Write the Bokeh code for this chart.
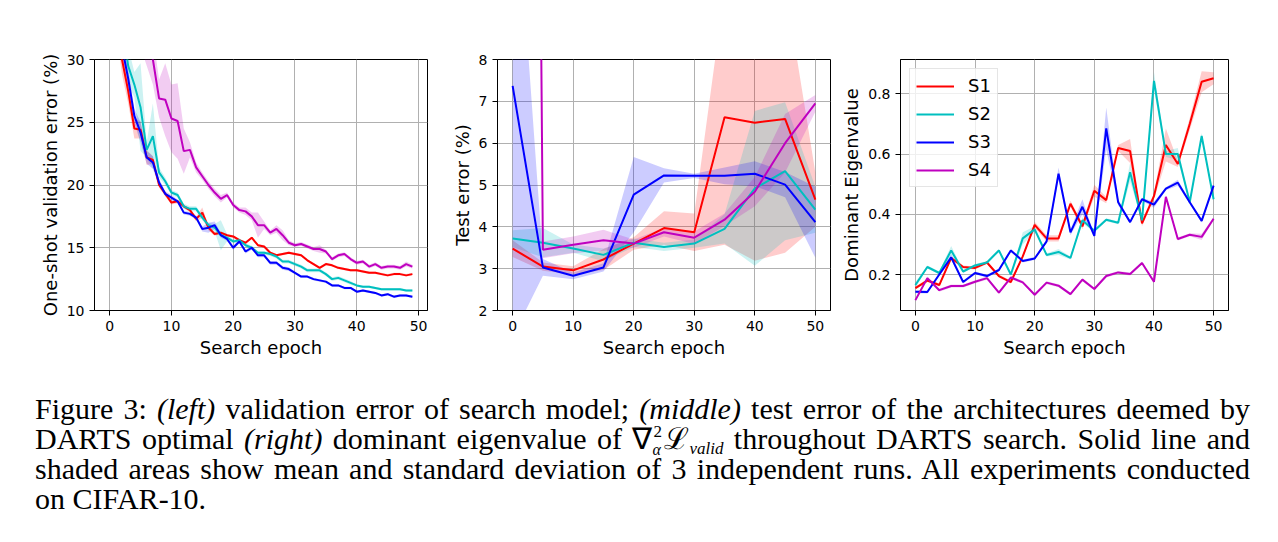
import numpy as np
from bokeh.plotting import figure
from bokeh.models import FixedTicker, Range1d, Legend, LegendItem, Div
from bokeh.layouts import row, column
from bokeh.embed import file_html
from bokeh.resources import INLINE

# ---------------- data ----------------
series = ["S1", "S2", "S3", "S4"]
colors = ["#ff0000", "#00bfbf", "#0000ff", "#bf00bf"]

# left: one-shot validation error (%) per search epoch
val_epochs = list(range(50))
val_s1 = [40.0, 34.0, 30.0, 27.5, 24.5, 24.4, 22.2, 22.0, 20.0, 19.3,
          18.6, 18.7, 18.3, 18.0, 17.3, 17.8, 16.6, 16.1, 16.2, 16.0,
          15.9, 15.6, 15.4, 15.8, 15.2, 15.1, 14.6, 14.4, 14.5, 14.6,
          14.5, 14.4, 14.0, 13.7, 13.4, 13.7, 13.6, 13.4, 13.3, 13.2,
          13.2, 13.1, 13.0, 13.0, 12.9, 12.8, 12.9, 12.9, 12.8, 12.9]
val_s2 = [45.0, 38.0, 33.0, 29.5, 28.0, 26.2, 22.8, 23.9, 21.0, 20.3,
          19.4, 19.2, 18.3, 18.1, 18.1, 17.4, 16.8, 16.6, 16.0, 15.8,
          15.5, 15.6, 15.2, 15.0, 14.6, 14.6, 14.5, 14.3, 13.9, 13.9,
          13.7, 13.5, 13.2, 13.2, 13.2, 12.9, 12.5, 12.6, 12.4, 12.2,
          12.0, 11.9, 11.9, 11.8, 11.7, 11.7, 11.7, 11.7, 11.6, 11.6]
val_s3 = [45.0, 38.0, 31.0, 28.5, 25.5, 24.2, 22.2, 21.8, 20.2, 19.3,
          19.0, 18.7, 17.8, 17.7, 17.4, 16.5, 16.6, 16.8, 16.0, 15.7,
          15.0, 15.5, 14.7, 15.0, 14.4, 14.4, 13.8, 13.8, 13.4, 13.3,
          13.0, 12.7, 12.7, 12.5, 12.4, 12.3, 12.0, 12.0, 11.8, 11.8,
          11.5, 11.6, 11.5, 11.4, 11.2, 11.3, 11.1, 11.2, 11.2, 11.1]
val_s4 = [45.0, 42.0, 40.0, 37.0, 35.0, 33.0, 31.5, 30.0, 26.9, 26.8,
          25.3, 25.1, 22.7, 22.8, 21.4, 20.7, 20.0, 19.4, 18.9, 19.2,
          18.4, 18.0, 17.9, 17.5, 16.8, 16.8, 16.2, 16.5, 16.0, 15.4,
          15.2, 15.3, 15.1, 14.9, 14.9, 14.7, 14.1, 14.4, 14.5, 14.1,
          13.8, 13.9, 13.5, 13.7, 13.4, 13.5, 13.5, 13.4, 13.7, 13.5]
val_sd_s1 = [1.5, 1.5, 1.2, 1.0, 0.8, 0.7, 0.6, 0.3, 0.2, 0.2,
             0.15, 0.15, 0.15, 0.15, 0.2, 0.4, 0.2, 0.15, 0.1, 0.1,
             0.1, 0.1, 0.1, 0.1, 0.1, 0.1, 0.1, 0.1, 0.1, 0.1,
             0.1, 0.1, 0.1, 0.1, 0.1, 0.1, 0.1, 0.1, 0.1, 0.1,
             0.1, 0.1, 0.1, 0.1, 0.1, 0.1, 0.1, 0.1, 0.1, 0.1]
val_sd_s2 = [2.0, 2.0, 2.0, 1.5, 1.0, 3.5, 0.6, 2.6, 0.4, 0.3,
             0.2, 0.2, 0.2, 0.2, 0.2, 0.2, 0.2, 0.3, 1.2, 0.3,
             0.15, 0.15, 0.15, 0.15, 0.15, 0.15, 0.15, 0.15, 0.15, 0.15,
             0.15, 0.15, 0.15, 0.15, 0.15, 0.15, 0.15, 0.15, 0.15, 0.15,
             0.1, 0.1, 0.1, 0.1, 0.1, 0.1, 0.1, 0.1, 0.1, 0.1]
val_sd_s3 = [1.0, 1.0, 1.0, 0.8, 0.6, 0.8, 0.5, 0.5, 0.3, 0.2,
             0.2, 0.15, 0.15, 0.15, 0.15, 0.2, 0.4, 0.3, 0.2, 0.15,
             0.15, 0.15, 0.15, 0.15, 0.15, 0.15, 0.15, 0.15, 0.15, 0.15,
             0.1, 0.1, 0.1, 0.1, 0.1, 0.1, 0.1, 0.1, 0.1, 0.1,
             0.1, 0.1, 0.1, 0.1, 0.1, 0.1, 0.1, 0.1, 0.1, 0.1]
val_sd_s4 = [2.0, 2.0, 2.0, 2.0, 2.0, 2.0, 2.0, 2.0, 1.5, 2.9,
             2.7, 3.0, 1.8, 0.6, 0.4, 0.3, 0.3, 0.3, 0.3, 0.2,
             0.2, 0.2, 0.3, 0.3, 1.0, 0.3, 0.2, 0.3, 0.4, 0.2,
             0.15, 0.15, 0.15, 0.15, 0.3, 0.15, 0.15, 0.15, 0.15, 0.15,
             0.15, 0.15, 0.15, 0.15, 0.15, 0.15, 0.15, 0.15, 0.2, 0.15]

# middle: test error (%) of architecture deemed optimal
test_epochs = [0, 5, 10, 15, 20, 25, 30, 35, 40, 45, 50]
test_s1 = [3.48, 3.05, 2.96, 3.22, 3.60, 3.97, 3.87, 6.62, 6.49, 6.58, 4.65]
test_s2 = [3.72, 3.62, 3.48, 3.33, 3.62, 3.52, 3.60, 3.95, 4.92, 5.33, 4.41]
test_s3 = [7.37, 3.03, 2.83, 3.03, 4.77, 5.23, 5.22, 5.22, 5.27, 5.01, 4.11]
test_s4 = [90.0, 3.45, 3.57, 3.68, 3.60, 3.87, 3.74, 4.17, 4.84, 6.00, 6.95]
test_sd_s1 = [0.2, 0.1, 0.1, 0.25, 0.15, 0.4, 0.45, 3.05, 3.3, 3.2, 0.65]
test_sd_s2 = [0.2, 0.35, 0.1, 0.15, 0.1, 0.1, 0.1, 0.35, 1.85, 1.65, 0.55]
test_sd_s3 = [6.0, 0.2, 0.08, 0.1, 0.9, 0.17, 0.05, 0.2, 0.3, 0.3, 0.85]
test_sd_s4 = [1.0, 0.2, 0.2, 0.25, 0.1, 0.1, 0.15, 0.15, 0.35, 0.7, 0.2]

# right: dominant eigenvalue
eig_epochs = list(range(0, 51, 2))
eig_s1 = [0.155, 0.18, 0.165, 0.255, 0.225, 0.222, 0.24, 0.195, 0.175, 0.26,
          0.365, 0.32, 0.32, 0.435, 0.36, 0.478, 0.447, 0.62, 0.61, 0.37,
          0.46, 0.63, 0.567, 0.70, 0.84, 0.852]
eig_s2 = [0.165, 0.225, 0.205, 0.28, 0.21, 0.23, 0.24, 0.28, 0.20, 0.32,
          0.35, 0.265, 0.275, 0.255, 0.38, 0.345, 0.382, 0.372, 0.54, 0.38,
          0.843, 0.60, 0.60, 0.44, 0.66, 0.45]
eig_s3 = [0.143, 0.142, 0.20, 0.257, 0.175, 0.205, 0.195, 0.215, 0.28, 0.245,
          0.253, 0.31, 0.535, 0.34, 0.425, 0.328, 0.685, 0.44, 0.374, 0.45,
          0.432, 0.485, 0.505, 0.44, 0.378, 0.495]
eig_s4 = [0.115, 0.188, 0.148, 0.162, 0.162, 0.176, 0.188, 0.14, 0.19, 0.174,
          0.133, 0.173, 0.163, 0.135, 0.183, 0.152, 0.195, 0.207, 0.202, 0.238,
          0.176, 0.458, 0.318, 0.332, 0.325, 0.385]
eig_sd_s1 = [0.005, 0.005, 0.005, 0.005, 0.005, 0.005, 0.005, 0.005, 0.005, 0.005,
             0.01, 0.01, 0.01, 0.01, 0.01, 0.02, 0.01, 0.01, 0.04, 0.01,
             0.01, 0.055, 0.01, 0.02, 0.035, 0.02]
eig_sd_s2 = [0.01, 0.005, 0.005, 0.015, 0.005, 0.005, 0.005, 0.005, 0.005, 0.02,
             0.01, 0.005, 0.01, 0.005, 0.01, 0.005, 0.005, 0.005, 0.03, 0.005,
             0.03, 0.01, 0.02, 0.005, 0.01, 0.005]
eig_sd_s3 = [0.005, 0.005, 0.005, 0.01, 0.005, 0.005, 0.005, 0.005, 0.005, 0.005,
             0.005, 0.005, 0.02, 0.01, 0.025, 0.005, 0.07, 0.01, 0.005, 0.005,
             0.01, 0.005, 0.01, 0.005, 0.005, 0.005]
eig_sd_s4 = [0.005, 0.005, 0.005, 0.005, 0.005, 0.005, 0.005, 0.005, 0.005, 0.005,
             0.005, 0.005, 0.005, 0.005, 0.005, 0.005, 0.005, 0.005, 0.005, 0.005,
             0.005, 0.005, 0.005, 0.005, 0.01, 0.005]

val_x_ticks = [0, 10, 20, 30, 40, 50]
val_y_ticks = [10, 15, 20, 25, 30]
test_y_ticks = [2, 3, 4, 5, 6, 7, 8]
eig_y_ticks = [0.2, 0.4, 0.6, 0.8]

FONT = "DejaVu Sans"


def style(p, xticks, yticks, xlabel, ylabel):
    p.xaxis.ticker = FixedTicker(ticks=xticks)
    p.yaxis.ticker = FixedTicker(ticks=yticks)
    p.xaxis.axis_label = xlabel
    p.yaxis.axis_label = ylabel
    for ax in list(p.xaxis) + list(p.yaxis):
        ax.major_label_text_font = FONT
        ax.major_label_text_font_size = "14px"
        ax.major_label_text_color = "black"
        ax.axis_label_text_font = FONT
        ax.axis_label_text_font_size = "18px"
        ax.axis_label_text_font_style = "normal"
        ax.axis_label_text_color = "black"
        ax.axis_line_color = "black"
        ax.major_tick_line_color = "black"
        ax.major_tick_out = 5
        ax.major_tick_in = 0
        ax.minor_tick_line_color = None
        ax.major_label_standoff = 5
        ax.axis_label_standoff = 3
    p.xgrid.grid_line_color = "#b0b0b0"
    p.ygrid.grid_line_color = "#b0b0b0"
    p.xgrid.grid_line_width = 1
    p.ygrid.grid_line_width = 1
    p.outline_line_color = "black"
    p.outline_line_alpha = 1.0
    p.outline_line_width = 1
    p.background_fill_color = "white"
    p.border_fill_color = "white"


def add_series(p, x, means, sds):
    rends = []
    for m, s, c in zip(means, sds, colors):
        m = np.array(m, dtype=float)
        s = np.array(s, dtype=float)
        p.varea(x=x, y1=m - s, y2=m + s, fill_color=c, fill_alpha=0.2)
    for m, c in zip(means, colors):
        r = p.line(x=x, y=m, line_color=c, line_width=2)
        rends.append(r)
    return rends


common = dict(output_backend="svg", toolbar_location=None, height=370,
              min_border_top=59, min_border_bottom=60)

p1 = figure(width=440, x_range=Range1d(-2.45, 51.45), y_range=Range1d(10, 30),
            min_border_left=94, min_border_right=13, **common)
add_series(p1, val_epochs, [val_s1, val_s2, val_s3, val_s4],
           [val_sd_s1, val_sd_s2, val_sd_s3, val_sd_s4])
style(p1, val_x_ticks, val_y_ticks, "Search epoch", "One-shot validation error (%)")

p2 = figure(width=396, x_range=Range1d(-2.5, 52.5), y_range=Range1d(2, 8),
            min_border_left=57, min_border_right=6, **common)
add_series(p2, test_epochs, [test_s1, test_s2, test_s3, test_s4],
           [test_sd_s1, test_sd_s2, test_sd_s3, test_sd_s4])
style(p2, val_x_ticks, test_y_ticks, "Search epoch", "Test error (%)")

p3 = figure(width=442, x_range=Range1d(-2.5, 52.5), y_range=Range1d(0.0805, 0.914),
            min_border_left=64, min_border_right=50, **common)
rends = add_series(p3, eig_epochs, [eig_s1, eig_s2, eig_s3, eig_s4],
                   [eig_sd_s1, eig_sd_s2, eig_sd_s3, eig_sd_s4])
style(p3, val_x_ticks, eig_y_ticks, "Search epoch", "Dominant Eigenvalue")

legend = Legend(items=[LegendItem(label=s, renderers=[r]) for s, r in zip(series, rends)],
                location="top_left")
legend.label_text_font = FONT
legend.label_text_font_size = "18px"
legend.label_text_color = "black"
legend.glyph_width = 38
legend.glyph_height = 20
legend.label_height = 20
legend.label_standoff = 14
legend.spacing = 7
legend.padding = 6
legend.margin = 9
legend.border_line_color = "#cccccc"
legend.border_line_width = 1
legend.background_fill_alpha = 0.8
p3.add_layout(legend)

# ---------------- caption ----------------
sup_sub = ('<span style="display:inline-block;position:relative;width:12px;height:0px;">'
           '<span style="position:absolute;left:1px;top:-26px;font-size:17px;line-height:17px;">2</span>'
           '<span style="position:absolute;left:0px;top:-7px;font-size:16px;line-height:16px;font-style:italic;">&alpha;</span>'
           '</span>')
line1 = ('Figure 3: <i>(left)</i> validation error of search model; <i>(middle)</i> '
         'test error of the architectures deemed by')
line2 = ('DARTS optimal <i>(right)</i> dominant eigenvalue of &nabla;' + sup_sub +
         '&#x2112;<span style="position:relative;top:5px;font-size:17px;line-height:17px;font-style:italic;">valid</span>'
         ' throughout DARTS search. Solid line and')
line3 = ('shaded areas show mean and standard deviation of 3 independent runs. '
         'All experiments conducted')
line4 = 'on CIFAR-10.'

jl = 'style="text-align:justify;text-align-last:justify;height:30px;"'
html = ('<div style="font-family:\'Liberation Serif\',serif;font-size:30px;line-height:30px;'
        'color:black;width:1215px;margin-left:30px;padding-top:19px;">'
        f'<div {jl}>{line1}</div>'
        f'<div {jl}>{line2}</div>'
        f'<div {jl}>{line3}</div>'
        f'<div style="text-align:left;height:30px;">{line4}</div>'
        '</div>')
caption = Div(text=html, width=1278, height=172)

layout = column(row(p1, p2, p3), caption)

open("out.html", "w").write(file_html(layout, INLINE))
